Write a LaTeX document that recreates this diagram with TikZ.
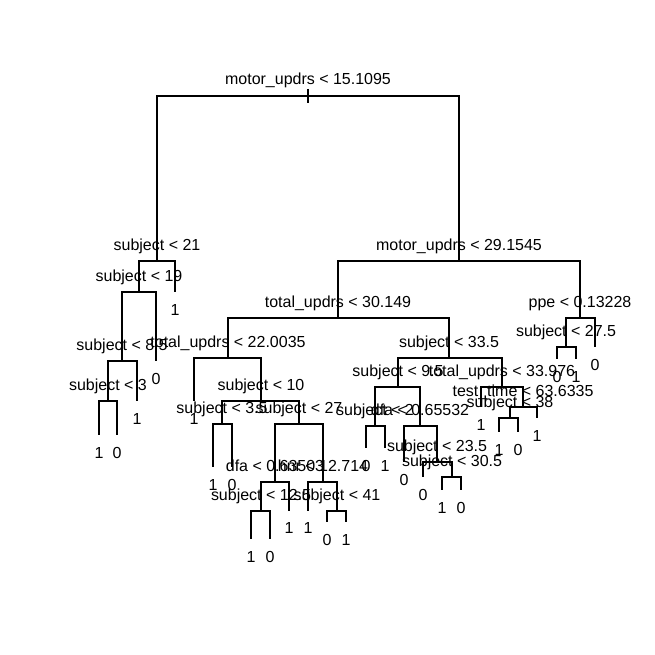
\documentclass[tikz,border=0pt]{standalone}
\usepackage{fontspec}
\setmainfont{Liberation Sans}
\usepackage{tikz}
\tikzstyle{split} = [anchor=base, inner sep=0pt, font=\fontsize{9.1}{10}\selectfont]
\tikzstyle{leaf} = [anchor=base, inner sep=0pt, font=\fontsize{9.1}{10}\selectfont]
\tikzstyle{branch} = [line width=0.6pt, black]

\begin{document}
\begin{tikzpicture}[x=0.02cm, y=-0.02cm]
    \useasboundingbox (0,0) rectangle (655,655);
    % root split
    \coordinate (r) at (308,96);
    \coordinate (rtop) at (308,89); \coordinate (rbot) at (308,103);
    \node[split] (rt) at (308,85) {motor\_updrs < 15.1095};
    \draw[branch] (rtop) -- (rbot);
    \begin{scope}
        % left side
        \coordinate (s21) at (157,261);
        \coordinate (s19) at (139,292);
        \coordinate (s85) at (122,361);
        \coordinate (s3) at (108,401);
        \coordinate (l1) at (99,435); \coordinate (l2) at (117,435);
        \coordinate (l3) at (137,401); \coordinate (l4) at (156,361); \coordinate (l5) at (175,292);
        \node[split] (s21t) at (157,250) {subject < 21};
        \node[split] (s19t) at (139,281) {subject < 19};
        \node[split] (s85t) at (122,350) {subject < 8.5};
        \node[split] (s3t) at (108,390) {subject < 3};
        \node[leaf] (l1t) at (99,458) {1};
        \node[leaf] (l2t) at (117,458) {0};
        \node[leaf] (l3t) at (137,424) {1};
        \node[leaf] (l4t) at (156,384) {0};
        \node[leaf] (l5t) at (175,315) {1};
        \draw[branch] (r) -| (s21);
        \draw[branch] (s21) -| (s19); \draw[branch] (s21) -| (l5);
        \draw[branch] (s19) -| (s85); \draw[branch] (s19) -| (l4);
        \draw[branch] (s85) -| (s3); \draw[branch] (s85) -| (l3);
        \draw[branch] (s3) -| (l1); \draw[branch] (s3) -| (l2);
    \end{scope}
    \begin{scope}
        % right side, total_updrs branch
        \coordinate (m29) at (459,261);
        \coordinate (t30) at (338,318);
        \coordinate (t22) at (228,358);
        \coordinate (s10) at (261,401);
        \coordinate (s35) at (222,424);
        \coordinate (s27) at (299,424);
        \coordinate (dfa1) at (275,482);
        \coordinate (hnr) at (323,482);
        \coordinate (s125) at (261,511);
        \coordinate (s41) at (337,511);
        \coordinate (l6) at (194,401);
        \coordinate (l7) at (213,467); \coordinate (l8) at (232,467);
        \coordinate (l9) at (251,539); \coordinate (l10) at (270,539);
        \coordinate (l11) at (289,511); \coordinate (l12) at (308,511);
        \coordinate (l13) at (327,522); \coordinate (l14) at (346,522);
        \node[split] (m29t) at (459,250) {motor\_updrs < 29.1545};
        \node[split] (t30t) at (338,307) {total\_updrs < 30.149};
        \node[split] (t22t) at (228,347) {total\_updrs < 22.0035};
        \node[split] (s10t) at (261,390) {subject < 10};
        \node[split] (s35t) at (222,413) {subject < 3.5};
        \node[split] (s27t) at (299,413) {subject < 27};
        \node[split] (dfa1t) at (275,471) {dfa < 0.63503};
        \node[split] (hnrt) at (323,471) {hnr < 12.714};
        \node[split] (s125t) at (261,500) {subject < 12.5};
        \node[split] (s41t) at (337,500) {subject < 41};
        \node[leaf] (l6t) at (194,424) {1};
        \node[leaf] (l7t) at (213,490) {1};
        \node[leaf] (l8t) at (232,490) {0};
        \node[leaf] (l9t) at (251,562) {1};
        \node[leaf] (l10t) at (270,562) {0};
        \node[leaf] (l11t) at (289,533) {1};
        \node[leaf] (l12t) at (308,533) {1};
        \node[leaf] (l13t) at (327,545) {0};
        \node[leaf] (l14t) at (346,545) {1};
        \draw[branch] (r) -| (m29);
        \draw[branch] (m29) -| (t30);
        \draw[branch] (t30) -| (t22);
        \draw[branch] (t22) -| (l6); \draw[branch] (t22) -| (s10);
        \draw[branch] (s10) -| (s35); \draw[branch] (s10) -| (s27);
        \draw[branch] (s35) -| (l7); \draw[branch] (s35) -| (l8);
        \draw[branch] (s27) -| (dfa1); \draw[branch] (s27) -| (hnr);
        \draw[branch] (dfa1) -| (s125); \draw[branch] (dfa1) -| (l11);
        \draw[branch] (s125) -| (l9); \draw[branch] (s125) -| (l10);
        \draw[branch] (hnr) -| (l12); \draw[branch] (hnr) -| (s41);
        \draw[branch] (s41) -| (l13); \draw[branch] (s41) -| (l14);
    \end{scope}
    \begin{scope}
        % right side, subject < 33.5 branch
        \coordinate (s335) at (449,358);
        \coordinate (s95) at (398,387);
        \coordinate (s2) at (375,426);
        \coordinate (dfa2) at (420,426);
        \coordinate (s235) at (437,462);
        \coordinate (s305) at (452,477);
        \coordinate (t33) at (502,387);
        \coordinate (tt) at (523,407);
        \coordinate (s38) at (510,418);
        \coordinate (k1) at (366,448); \coordinate (k2) at (385,448);
        \coordinate (k3) at (404,462); \coordinate (k4) at (423,477);
        \coordinate (k5) at (442,490); \coordinate (k6) at (461,490);
        \coordinate (k7) at (481,407);
        \coordinate (k8) at (499,432); \coordinate (k9) at (518,432);
        \coordinate (k10) at (537,418);
        \node[split] (s335t) at (449,347) {subject < 33.5};
        \node[split] (s95t) at (398,376) {subject < 9.5};
        \node[split] (s2t) at (375,415) {subject < 2};
        \node[split] (dfa2t) at (420,415) {dfa < 0.65532};
        \node[split] (s235t) at (437,451) {subject < 23.5};
        \node[split] (s305t) at (452,466) {subject < 30.5};
        \node[split] (t33t) at (502,376) {total\_updrs < 33.976};
        \node[split] (ttt) at (523,396) {test\_time < 63.6335};
        \node[split] (s38t) at (510,407) {subject < 38};
        \node[leaf] (k1t) at (366,471) {0};
        \node[leaf] (k2t) at (385,471) {1};
        \node[leaf] (k3t) at (404,485) {0};
        \node[leaf] (k4t) at (423,500) {0};
        \node[leaf] (k5t) at (442,513) {1};
        \node[leaf] (k6t) at (461,513) {0};
        \node[leaf] (k7t) at (481,430) {1};
        \node[leaf] (k8t) at (499,455) {1};
        \node[leaf] (k9t) at (518,455) {0};
        \node[leaf] (k10t) at (537,441) {1};
        \draw[branch] (t30) -| (s335);
        \draw[branch] (s335) -| (s95); \draw[branch] (s335) -| (t33);
        \draw[branch] (s95) -| (s2); \draw[branch] (s95) -| (dfa2);
        \draw[branch] (s2) -| (k1); \draw[branch] (s2) -| (k2);
        \draw[branch] (dfa2) -| (k3); \draw[branch] (dfa2) -| (s235);
        \draw[branch] (s235) -| (k4); \draw[branch] (s235) -| (s305);
        \draw[branch] (s305) -| (k5); \draw[branch] (s305) -| (k6);
        \draw[branch] (t33) -| (k7); \draw[branch] (t33) -| (tt);
        \draw[branch] (tt) -| (s38); \draw[branch] (tt) -| (k10);
        \draw[branch] (s38) -| (k8); \draw[branch] (s38) -| (k9);
    \end{scope}
    \begin{scope}
        % right side, ppe branch
        \coordinate (ppe) at (580,318);
        \coordinate (s275) at (566,347);
        \coordinate (p1) at (557,359); \coordinate (p2) at (576,359);
        \coordinate (p3) at (595,347);
        \node[split] (ppet) at (580,307) {ppe < 0.13228};
        \node[split] (s275t) at (566,336) {subject < 27.5};
        \node[leaf] (p1t) at (557,382) {0};
        \node[leaf] (p2t) at (576,382) {1};
        \node[leaf] (p3t) at (595,370) {0};
        \draw[branch] (m29) -| (ppe);
        \draw[branch] (ppe) -| (s275); \draw[branch] (ppe) -| (p3);
        \draw[branch] (s275) -| (p1); \draw[branch] (s275) -| (p2);
    \end{scope}
\end{tikzpicture}
\end{document}
